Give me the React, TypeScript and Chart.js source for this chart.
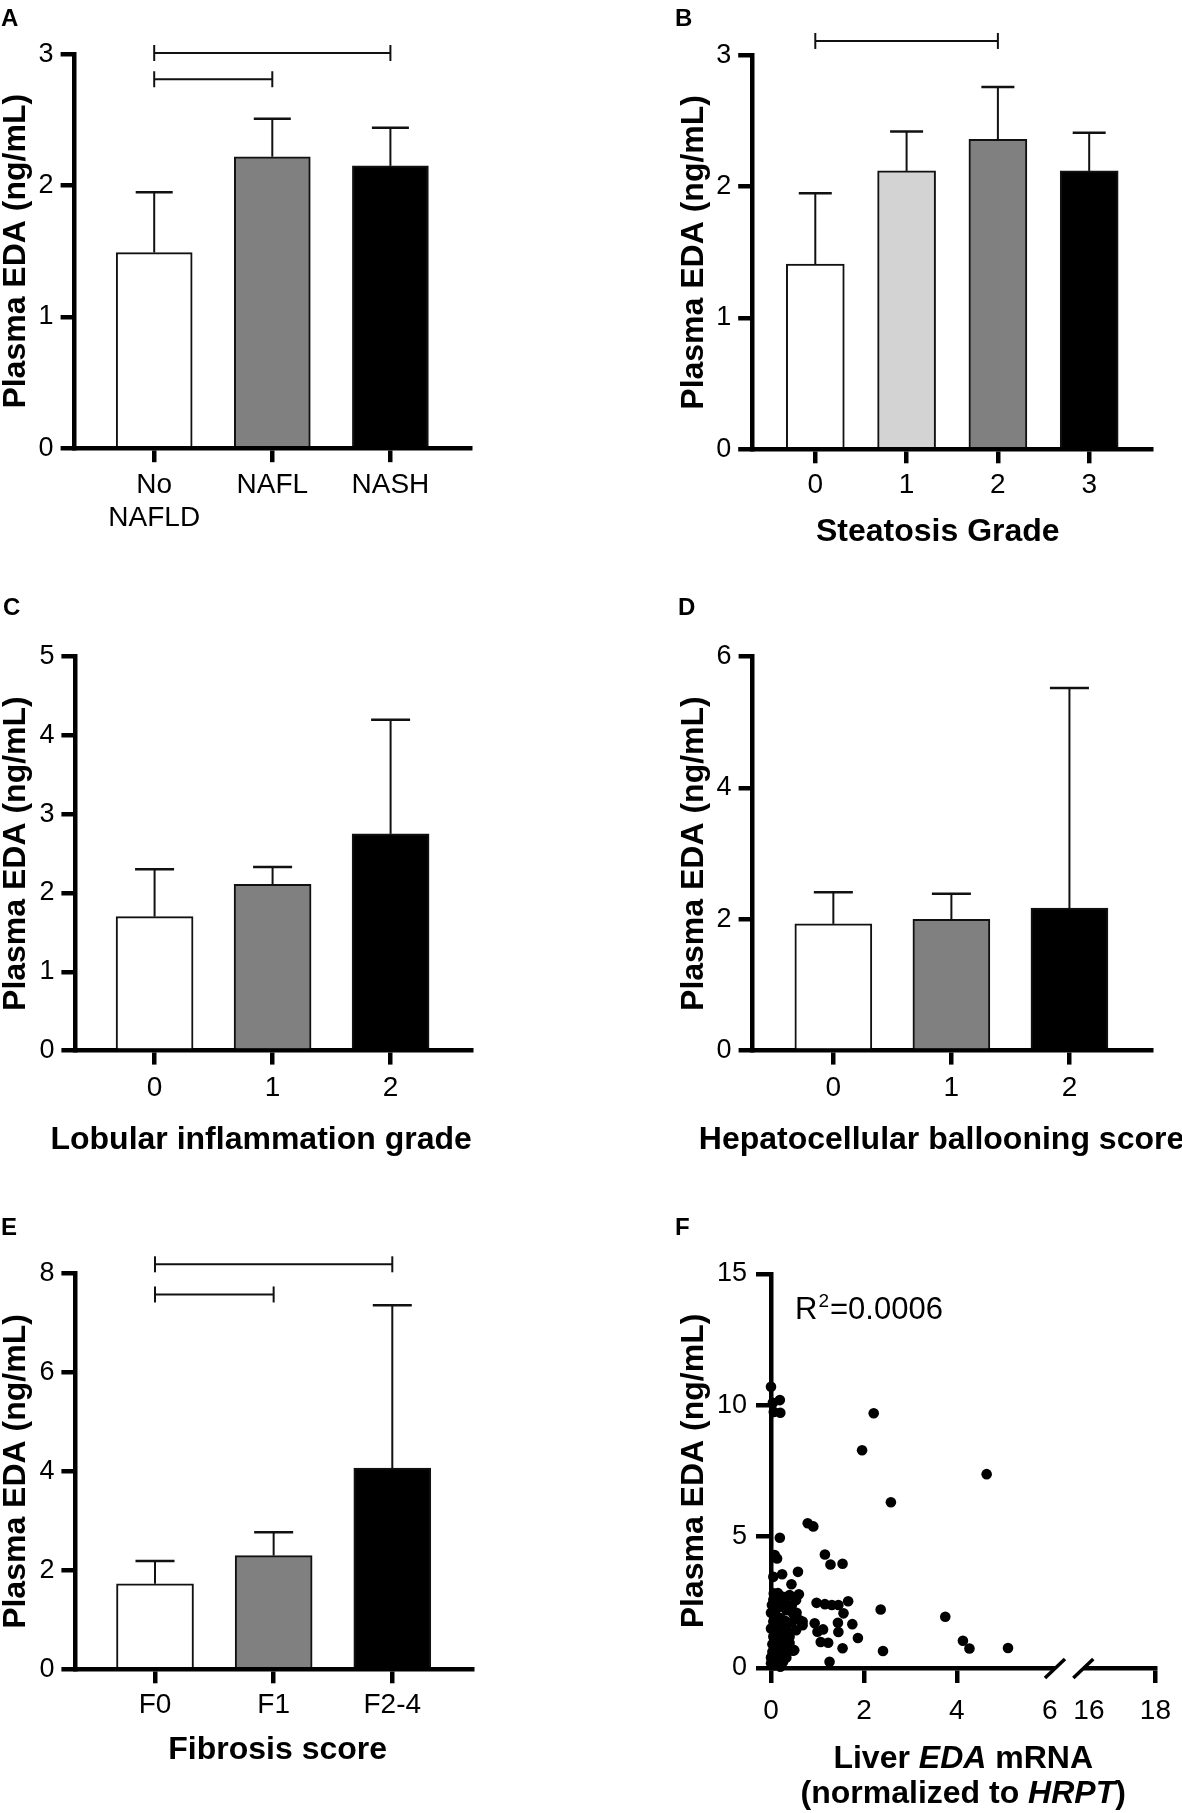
import { useEffect, useRef } from "react"
import { Chart, registerables } from "chart.js"

Chart.register(...registerables)

const FONT = "'Liberation Sans', Arial, Helvetica, sans-serif"

// A - NAFLD status
const nafldLabels = [["No", "NAFLD"], "NAFL", "NASH"]
const nafldMeans = [1.49, 2.22, 2.15]
const nafldErrors = [0.46, 0.29, 0.29]
const nafldBrackets = [
  [0, 2, 3.01],
  [0, 1, 2.81],
]

// B - steatosis
const steatosisLabels = ["0", "1", "2", "3"]
const steatosisMeans = [1.41, 2.12, 2.36, 2.12]
const steatosisErrors = [0.54, 0.3, 0.4, 0.29]
const steatosisBrackets = [[0, 2, 3.11]]

// C - lobular inflammation
const lobularLabels = ["0", "1", "2"]
const lobularMeans = [1.7, 2.11, 2.75]
const lobularErrors = [0.6, 0.22, 1.45]

// D - ballooning
const balloonLabels = ["0", "1", "2"]
const balloonMeans = [1.93, 2.0, 2.17]
const balloonErrors = [0.48, 0.39, 3.35]

// E - fibrosis
const fibrosisLabels = ["F0", "F1", "F2-4"]
const fibrosisMeans = [1.73, 2.3, 4.07]
const fibrosisErrors = [0.46, 0.47, 3.29]
const fibrosisBrackets = [
  [0, 2, 8.19],
  [0, 1, 7.58],
]

// F - liver mRNA vs plasma
const mrnaX = [
  0.0, 0.04, 0.19, 0.2, 0.06, 2.21, 1.96, 4.64, 2.58, 0.79, 0.91, 0.19, 0.08, 0.13, 1.16, 1.28, 1.54, 0.58,
  0.24, 0.05, 0.44, 0.6, 1.66, 0.98, 1.16, 1.31, 1.45, 1.56, 2.36, 3.75, 1.44, 1.75, 1.45, 0.94, 1.12, 1.0,
  1.87, 4.13, 4.27, 5.1, 1.07, 1.23, 1.54, 2.41, 1.26, 0.47, 0.36, 0.06, 0.26, 0.4, 0.54, 0.19, 0.33, 0.47,
  0.61, 0.68, 0.05, 0.26, 0.4, 0.54, 0.68, 0.08, 0.26, 0.19, 0.03, 0.13, 0.26, 0.0, 0.36, 0.4, 0.02, 0.1,
  0.15, 0.05, 0.2, 0.3, 0.12, 0.03, 0.15, 0.33, 0.08, 0.2, 0.5, 0.1, 0.3, 0.45, 0.0, 0.0, 0.12, 0.0, 0.15,
  0.35, 0.1, 0.2, 0.35, 0.25, 0.1, 0.3, 0.15, 0.45, 0.55, 0.05, 0.22, 0.4,
]
const plasmaY = [
  10.71, 10.1, 10.2, 9.72, 9.75, 9.7, 8.29, 7.38, 6.31, 5.51, 5.39, 4.96, 4.3, 4.17, 4.32, 3.94, 3.97, 3.66,
  3.57, 3.47, 3.19, 2.81, 2.54, 2.48, 2.43, 2.4, 2.4, 2.08, 2.23, 1.95, 1.72, 1.67, 1.37, 1.7, 1.47, 1.38,
  1.14, 1.04, 0.74, 0.76, 0.99, 0.96, 0.75, 0.65, 0.24, 0.66, 0.7, 2.84, 2.71, 2.78, 2.59, 2.33, 2.2, 2.08,
  1.83, 1.77, 1.77, 1.63, 1.32, 1.44, 1.63, 1.06, 0.94, 0.56, 0.62, 0.3, 0.24, 0.18, 1.06, 1.19, 2.4, 2.0,
  1.5, 1.2, 1.9, 1.8, 2.6, 0.9, 0.75, 0.4, 0.1, 0.05, 0.68, 1.4, 2.5, 2.4, 1.5, 2.1, 0.45, 0.4, 2.85,
  1.45, 2.2, 2.6, 2.35, 1.2, 0.7, 0.6, 1.1, 1.75, 2.1, 2.6, 0.35, 0.95,
]
const mrnaTicks = [0, 2, 4, 6, 16, 18]
const rSquared = "0.0006"

const threeFills = ["#ffffff", "#808080", "#000000"]
const fourFills = ["#ffffff", "#d3d3d3", "#808080", "#000000"]

// broken x axis: 0-6 then 16-18 on a compressed segment
const BREAK_FROM = 6
const BREAK_TO = 16
const toAxis = (x: number) => (x <= BREAK_FROM ? x : 6.84 + (x - BREAK_TO) * 0.716)

// fixed height of every x scale box, so tick labels are never clipped
const X_AXIS_HEIGHT = 110

type Seg = { text: string; italic?: boolean }

function line(ctx: CanvasRenderingContext2D, x1: number, y1: number, x2: number, y2: number) {
  ctx.beginPath()
  ctx.moveTo(x1, y1)
  ctx.lineTo(x2, y2)
  ctx.stroke()
}

function errorBarPlugin(errors: number[], cap: number, brackets: number[][]) {
  return {
    id: "errorBars",
    afterDatasetsDraw(chart: any) {
      const { ctx } = chart
      const xs = chart.scales.x
      const ys = chart.scales.y
      const pts = chart.data.datasets[0].data as { x: number; y: number }[]
      ctx.save()
      ctx.strokeStyle = "#111"
      pts.forEach((p, i) => {
        const px = xs.getPixelForValue(p.x)
        const y0 = ys.getPixelForValue(p.y)
        const y1 = ys.getPixelForValue(p.y + errors[i])
        ctx.lineWidth = 2
        line(ctx, px, y0, px, y1)
        ctx.lineWidth = 2.5
        line(ctx, px - cap / 2, y1, px + cap / 2, y1)
      })
      ctx.lineWidth = 2
      brackets.forEach(([a, b, level]) => {
        const xa = xs.getPixelForValue(a)
        const xb = xs.getPixelForValue(b)
        const yl = ys.getPixelForValue(level)
        line(ctx, xa, yl, xb, yl)
        line(ctx, xa, yl - 8, xa, yl + 8)
        line(ctx, xb, yl - 8, xb, yl + 8)
      })
      ctx.restore()
    },
  }
}

function xTitlePlugin(lines: Seg[][], dx: number, dy: number, gap = 35) {
  return {
    id: "xTitle",
    afterDraw(chart: any) {
      const { ctx, chartArea } = chart
      const cx = (chartArea.left + chartArea.right) / 2 + dx
      ctx.save()
      ctx.fillStyle = "#000"
      ctx.textBaseline = "alphabetic"
      ctx.textAlign = "left"
      lines.forEach((segs, li) => {
        const fonts = segs.map((s) => `${s.italic ? "italic " : ""}bold 32px ${FONT}`)
        const widths = segs.map((s, i) => {
          ctx.font = fonts[i]
          return ctx.measureText(s.text).width
        })
        let x = cx - widths.reduce((a, b) => a + b, 0) / 2
        const y = chartArea.bottom + dy + li * gap
        segs.forEach((s, i) => {
          ctx.font = fonts[i]
          ctx.fillText(s.text, x, y)
          x += widths[i]
        })
      })
      ctx.restore()
    },
  }
}

const axisGrid = (tickLength: number) => ({
  display: true,
  drawOnChartArea: false,
  drawTicks: true,
  offset: false,
  tickLength,
  tickWidth: 4.5,
  tickColor: "#000",
  lineWidth: 4.5,
  color: "#000",
})

const yTitle = {
  display: true,
  text: "Plasma EDA (ng/mL)",
  color: "#000",
  padding: 0,
  font: { family: FONT, size: 32, weight: "bold" as const, lineHeight: 1 },
}

type Box = { left: number; top: number; width: number; height: number }
type Pad = { left: number; top: number; right: number; bottom: number }

interface BarPanelProps {
  box: Box
  pad: Pad
  yWidth: number
  labels: (string | string[])[]
  means: number[]
  errors: number[]
  fills: string[]
  yMax: number
  yStep: number
  xMin: number
  xMax: number
  barWidth: number
  capWidth: number
  tickPad: number
  brackets?: number[][]
  title?: string
  titleDx?: number
  titleDy?: number
}

function BarPanel(props: BarPanelProps) {
  const ref = useRef<HTMLCanvasElement>(null)

  useEffect(() => {
    if (!ref.current) return
    const p = props
    const plugins: any[] = [errorBarPlugin(p.errors, p.capWidth, p.brackets || [])]
    if (p.title) plugins.push(xTitlePlugin([[{ text: p.title }]], p.titleDx || 0, p.titleDy || 90))

    const chart = new Chart(ref.current, {
      type: "bar",
      data: {
        datasets: [
          {
            data: p.means.map((m, i) => ({ x: i, y: m })),
            backgroundColor: p.fills,
            borderColor: "#111",
            borderWidth: 2,
            barThickness: p.barWidth,
          },
        ],
      },
      options: {
        responsive: false,
        animation: false,
        events: [],
        layout: { padding: p.pad },
        plugins: { legend: { display: false }, tooltip: { enabled: false } },
        scales: {
          x: {
            type: "linear",
            min: p.xMin,
            max: p.xMax,
            offset: false,
            z: 1,
            afterBuildTicks: (s: any) => {
              s.ticks = p.labels.map((_, i) => ({ value: i }))
            },
            afterFit: (s: any) => {
              s.height = X_AXIS_HEIGHT
            },
            ticks: {
              callback: (v: any) => p.labels[Math.round(Number(v))],
              color: "#000",
              padding: p.tickPad,
              maxRotation: 0,
              minRotation: 0,
              autoSkip: false,
              font: { family: FONT, size: 28 },
            },
            grid: axisGrid(14),
            border: { display: true, color: "#000", width: 4.5 },
          },
          y: {
            min: 0,
            max: p.yMax,
            z: 1,
            afterFit: (s: any) => {
              s.width = p.yWidth
            },
            ticks: {
              stepSize: p.yStep,
              color: "#000",
              padding: 7,
              font: { family: FONT, size: 27 },
            },
            grid: axisGrid(14),
            border: { display: true, color: "#000", width: 4.5 },
            title: yTitle,
          },
        },
      },
      plugins,
    } as any)

    return () => chart.destroy()
  }, [])

  const b = props.box
  return (
    <canvas
      ref={ref}
      width={b.width}
      height={b.height}
      style={{ position: "absolute", left: b.left, top: b.top, width: b.width, height: b.height }}
    />
  )
}

function ScatterPanel() {
  const ref = useRef<HTMLCanvasElement>(null)

  useEffect(() => {
    if (!ref.current) return

    const breakPlugin = {
      id: "axisBreak",
      afterDraw(chart: any) {
        const { ctx, chartArea } = chart
        const xs = chart.scales.x
        const g0 = xs.getPixelForValue(BREAK_FROM + 0.11)
        const g1 = xs.getPixelForValue(toAxis(BREAK_TO) - 0.12)
        const yb = chartArea.bottom
        ctx.save()
        ctx.fillStyle = "#fff"
        ctx.fillRect(g0, yb - 4, g1 - g0, 8)
        ctx.strokeStyle = "#000"
        ctx.lineWidth = 3.5
        ;[g0, g1].forEach((g) => line(ctx, g - 10, yb + 10, g + 10, yb - 9))
        ctx.restore()
      },
    }

    const rPlugin = {
      id: "rSquared",
      afterDraw(chart: any) {
        const { ctx, chartArea } = chart
        const x = chartArea.left + 24
        const y = chartArea.top + 45
        ctx.save()
        ctx.fillStyle = "#000"
        ctx.textBaseline = "alphabetic"
        ctx.textAlign = "left"
        ctx.font = `31px ${FONT}`
        ctx.fillText("R", x, y)
        const rw = ctx.measureText("R").width
        ctx.font = `19px ${FONT}`
        ctx.fillText("2", x + rw + 1, y - 12)
        const sw = ctx.measureText("2").width
        ctx.font = `31px ${FONT}`
        ctx.fillText("=" + rSquared, x + rw + sw + 2, y)
        ctx.restore()
      },
    }

    const chart = new Chart(ref.current, {
      type: "scatter",
      data: {
        datasets: [
          {
            data: mrnaX.map((x, i) => ({ x: toAxis(x), y: plasmaY[i] })),
            backgroundColor: "#000",
            borderColor: "#000",
            borderWidth: 0,
            pointRadius: 5.3,
            pointHoverRadius: 5.3,
            clip: false,
          },
        ],
      },
      options: {
        responsive: false,
        animation: false,
        events: [],
        layout: { padding: { left: 78, top: 94, right: 17, bottom: 145 - X_AXIS_HEIGHT } },
        plugins: { legend: { display: false }, tooltip: { enabled: false } },
        scales: {
          x: {
            type: "linear",
            min: 0,
            max: toAxis(18),
            z: 1,
            afterBuildTicks: (s: any) => {
              s.ticks = mrnaTicks.map((v) => ({ value: toAxis(v) }))
            },
            afterFit: (s: any) => {
              s.height = X_AXIS_HEIGHT
            },
            ticks: {
              callback: (_v: any, i: number) => String(mrnaTicks[i]),
              color: "#000",
              padding: 11,
              maxRotation: 0,
              minRotation: 0,
              autoSkip: false,
              font: { family: FONT, size: 28 },
            },
            grid: {
              ...axisGrid(15),
              tickColor: (c: any) =>
                mrnaTicks[c.index] === BREAK_FROM || mrnaTicks[c.index] === BREAK_TO ? "rgba(0,0,0,0)" : "#000",
            },
            border: { display: true, color: "#000", width: 4.5 },
          },
          y: {
            min: 0,
            max: 15,
            z: 1,
            afterFit: (s: any) => {
              s.width = 93
            },
            ticks: {
              stepSize: 5,
              color: "#000",
              padding: 9,
              font: { family: FONT, size: 27 },
            },
            grid: axisGrid(15),
            border: { display: true, color: "#000", width: 4.5 },
            title: yTitle,
          },
        },
      },
      plugins: [
        breakPlugin,
        rPlugin,
        xTitlePlugin(
          [
            [{ text: "Liver " }, { text: "EDA", italic: true }, { text: " mRNA" }],
            [{ text: "(normalized to " }, { text: "HRPT", italic: true }, { text: ")" }],
          ],
          0,
          100,
          35
        ),
      ],
    } as any)

    return () => chart.destroy()
  }, [])

  return (
    <canvas
      ref={ref}
      width={582}
      height={633}
      style={{ position: "absolute", left: 600, top: 1180, width: 582, height: 633 }}
    />
  )
}

const letterStyle = (left: number, top: number) => ({
  position: "absolute" as const,
  left,
  top,
  fontFamily: FONT,
  fontWeight: "bold" as const,
  fontSize: 24,
  lineHeight: "24px",
  color: "#000",
})

// bottom padding = space below the x axis line minus the x scale box
const padBottom = (below: number) => below - X_AXIS_HEIGHT

export default function App() {
  return (
    <div style={{ position: "absolute", left: 0, top: 0, width: 1182, height: 1813, background: "#fff", overflow: "hidden" }}>
      <BarPanel
        box={{ left: 0, top: 0, width: 600, height: 580 }}
        pad={{ left: 0, top: 54.3, right: 130, bottom: padBottom(131.8) }}
        yWidth={74.6}
        labels={nafldLabels}
        means={nafldMeans}
        errors={nafldErrors}
        fills={threeFills}
        yMax={3}
        yStep={1}
        xMin={-0.674}
        xMax={2.674}
        barWidth={76}
        capWidth={37}
        tickPad={6}
        brackets={nafldBrackets}
      />
      <BarPanel
        box={{ left: 600, top: 0, width: 582, height: 580 }}
        pad={{ left: 78, top: 55.4, right: 31, bottom: padBottom(130.7) }}
        yWidth={74.2}
        labels={steatosisLabels}
        means={steatosisMeans}
        errors={steatosisErrors}
        fills={fourFills}
        yMax={3}
        yStep={1}
        xMin={-0.691}
        xMax={3.677}
        barWidth={58}
        capWidth={33}
        tickPad={5}
        brackets={steatosisBrackets}
        title="Steatosis Grade"
        titleDx={-13.8}
        titleDy={91.5}
      />
      <BarPanel
        box={{ left: 0, top: 580, width: 600, height: 600 }}
        pad={{ left: 0, top: 76.6, right: 128.7, bottom: padBottom(129.4) }}
        yWidth={75.4}
        labels={lobularLabels}
        means={lobularMeans}
        errors={lobularErrors}
        fills={threeFills}
        yMax={5}
        yStep={1}
        xMin={-0.671}
        xMax={2.684}
        barWidth={77}
        capWidth={39}
        tickPad={7}
        title="Lobular inflammation grade"
        titleDx={-12.2}
        titleDy={98}
      />
      <BarPanel
        box={{ left: 600, top: 580, width: 582, height: 600 }}
        pad={{ left: 78, top: 76.6, right: 30.4, bottom: padBottom(129.4) }}
        yWidth={74.6}
        labels={balloonLabels}
        means={balloonMeans}
        errors={balloonErrors}
        fills={threeFills}
        yMax={6}
        yStep={2}
        xMin={-0.684}
        xMax={2.696}
        barWidth={77}
        capWidth={39}
        tickPad={7}
        title="Hepatocellular ballooning score"
        titleDx={-10.6}
        titleDy={98}
      />
      <BarPanel
        box={{ left: 0, top: 1180, width: 600, height: 633 }}
        pad={{ left: 0, top: 93.7, right: 128.1, bottom: padBottom(143.7) }}
        yWidth={75.4}
        labels={fibrosisLabels}
        means={fibrosisMeans}
        errors={fibrosisErrors}
        fills={threeFills}
        yMax={8}
        yStep={2}
        xMin={-0.671}
        xMax={2.671}
        barWidth={77}
        capWidth={39}
        tickPad={5}
        brackets={fibrosisBrackets}
        title="Fibrosis score"
        titleDx={4}
        titleDy={89.5}
      />
      <ScatterPanel />
      <div style={letterStyle(1, 6)}>A</div>
      <div style={letterStyle(675, 6)}>B</div>
      <div style={letterStyle(3, 595.4)}>C</div>
      <div style={letterStyle(678, 595.4)}>D</div>
      <div style={letterStyle(1, 1215.4)}>E</div>
      <div style={letterStyle(675, 1215.4)}>F</div>
    </div>
  )
}
